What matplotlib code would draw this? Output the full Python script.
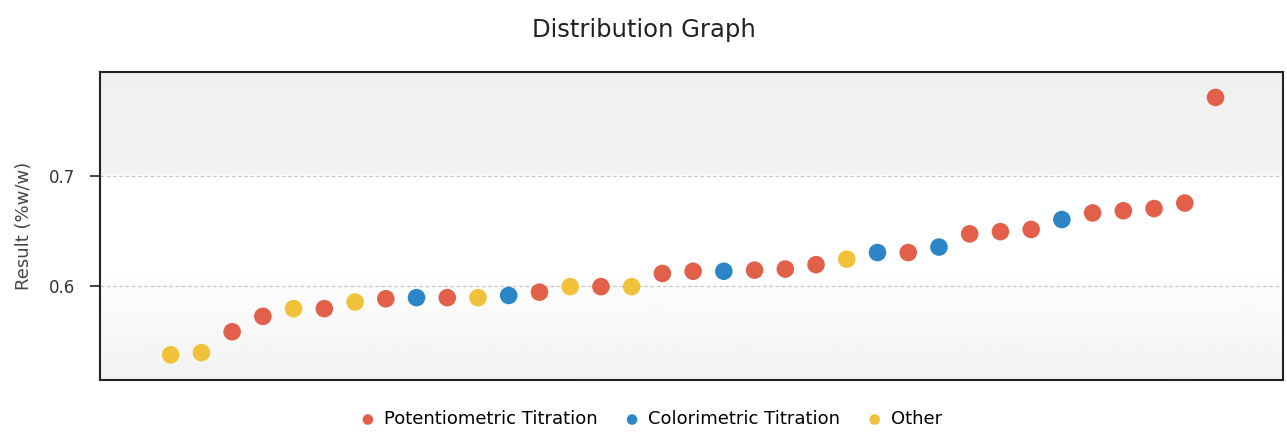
import numpy as np
import matplotlib.pyplot as plt

plt.rcParams['font.family'] = ['DejaVu Sans']

# --- DATA (sorted ascending) ---
results = [0.537, 0.539, 0.558, 0.572, 0.579, 0.579, 0.585, 0.588, 0.589, 0.589,
           0.589, 0.591, 0.594, 0.599, 0.599, 0.599, 0.611, 0.613, 0.613, 0.614,
           0.615, 0.619, 0.624, 0.630, 0.630, 0.635, 0.647, 0.649, 0.651, 0.660,
           0.666, 0.668, 0.670, 0.675, 0.771]
methods = ['O', 'O', 'P', 'P', 'O', 'P', 'O', 'P', 'C', 'P',
           'O', 'C', 'P', 'O', 'P', 'O', 'P', 'P', 'C', 'P',
           'P', 'P', 'O', 'C', 'P', 'C', 'P', 'P', 'P', 'C',
           'P', 'P', 'P', 'P', 'P']
series_keys = ['P', 'C', 'O']
series_names = ['Potentiometric Titration', 'Colorimetric Titration', 'Other']
series_colors = ['#e2604a', '#2b85c6', '#efc23a']
y_ticks = [0.6, 0.7]

# --- PLOT ---
fig = plt.figure(figsize=(12.87, 4.32), dpi=100)
ax = fig.add_axes([0.0777, 0.120, 0.9193, 0.713])

y_lo, y_hi = 0.514, 0.794
x_lo, x_hi = -2.3, 36.2

# soft vertical background gradient (grey top/bottom, white middle)
yy = np.linspace(y_lo, y_hi, 300)
shade = np.where(yy > 0.70, 0.95 - 0.01 * (yy - 0.70) / (y_hi - 0.70),
                 np.where(yy > 0.62, 1.0, 1.0 - 0.05 * (0.62 - yy) / (0.62 - y_lo)))
img = np.repeat(shade[:, None], 2, axis=1)
ax.imshow(img, cmap='gray', vmin=0, vmax=1, aspect='auto', origin='lower',
          extent=[x_lo, x_hi, y_lo, y_hi], zorder=0)

for yt in y_ticks:
    ax.axhline(yt, color='#c8c8c8', linestyle=(0, (3, 2)), linewidth=0.9, zorder=1)

x = np.arange(len(results))
res = np.array(results)
meth = np.array(methods)
for key, name, col in zip(series_keys, series_names, series_colors):
    m = meth == key
    ax.scatter(x[m], res[m], s=160, color=col, edgecolors='none', label=name, zorder=3)

ax.set_xlim(x_lo, x_hi)
ax.set_ylim(y_lo, y_hi)
ax.set_xticks([])
ax.set_yticks(y_ticks)
ax.set_yticklabels(['0.6', '0.7'], fontsize=12, color='#333333')
ax.tick_params(axis='y', length=7, width=1.2, color='#222222', pad=11)
for sp in ax.spines.values():
    sp.set_color('#222222')
    sp.set_linewidth(1.5)

ax.set_ylabel('Result (%w/w)', fontsize=13, color='#444444', labelpad=11)
fig.text(0.5, 0.93, 'Distribution Graph', ha='center', va='center', fontsize=17.5, color='#222222')

ax.legend(loc='upper center', bbox_to_anchor=(0.466, -0.045), ncol=3, frameon=False,
          fontsize=13, handlelength=0.8, handletextpad=0.5, columnspacing=1.5,
          markerscale=0.6)

plt.savefig('out.png', dpi=100, facecolor='white')
plt.close()
